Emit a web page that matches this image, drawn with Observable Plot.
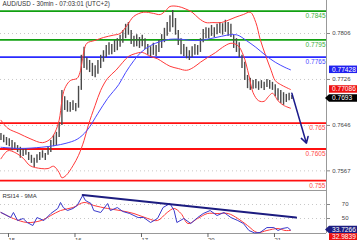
<!DOCTYPE html>
<html><head><meta charset="utf-8">
<script src="https://cdn.jsdelivr.net/npm/d3@7"></script>
<script src="https://cdn.jsdelivr.net/npm/@observablehq/plot@0.6"></script>
<style>
body{margin:0;background:#fff;}
#chart{position:relative;width:357px;height:240px;overflow:hidden;background:#fff;}
#chart svg{display:block;}
</style></head><body><div id="chart"></div>
<script>
// ---- data (x = 30-min candle index, 0 = 15th 00:00; weekend removed) ----
const title = "AUD/USD - 30min - 07:03:01 (UTC+2)";
const firstBar = -4, barStep = 2;   // hourly sampled bars
const high = [
.7632,.7629,.7625,.7623,.7620,.7616,.7611,.7608,.7604,.7606,
.7599,.7594,.7589,.7595,.7599,.7602,.7597,.7609,.7620,.7629,
.7634,.7651,.7707,.7696,.7689,.7686,.7689,.7684,.7714,.7768,
.7782,.7764,.7759,.7754,.7750,.7759,.7768,.7776,.7785,.7790,
.7787,.7794,.7797,.7803,.7811,.7822,.7825,.7811,.7801,.7804,
.7799,.7803,.7797,.7787,.7783,.7789,.7785,.7794,.7804,.7815,
.7825,.7837,.7846,.7832,.7811,.7797,.7787,.7782,.7776,.7783,
.7787,.7785,.7797,.7813,.7816,.7815,.7820,.7816,.7822,.7825,
.7823,.7829,.7825,.7822,.7803,.7797,.7790,.7768,.7756,.7733,
.7728,.7724,.7726,.7722,.7724,.7721,.7726,.7724,.7721,.7717,
.7710,.7707,.7703,.7700,.7702,.7698];
const low = [
.7620,.7616,.7611,.7609,.7602,.7604,.7599,.7589,.7592,.7594,
.7585,.7580,.7573,.7580,.7585,.7589,.7585,.7594,.7599,.7609,
.7611,.7625,.7646,.7672,.7669,.7669,.7672,.7670,.7676,.7707,
.7745,.7742,.7738,.7731,.7729,.7735,.7745,.7756,.7764,.7768,
.7769,.7773,.7776,.7782,.7789,.7797,.7803,.7787,.7782,.7783,
.7780,.7783,.7778,.7768,.7764,.7768,.7766,.7773,.7780,.7790,
.7801,.7808,.7816,.7803,.7785,.7769,.7766,.7762,.7759,.7764,
.7768,.7768,.7773,.7790,.7797,.7797,.7801,.7799,.7804,.7806,
.7803,.7808,.7801,.7799,.7780,.7773,.7764,.7745,.7724,.7710,
.7707,.7709,.7710,.7707,.7710,.7707,.7712,.7709,.7707,.7696,
.7689,.7684,.7681,.7686,.7689,.7691];

const bbUpperX = [-4,1,9,17,26,32,35,38,40,42,46,51,53,56,58,64,70,77,82,87,92,99,106,111,115,118,124,129,134,139,144,149,155,160,165,171,176,180,183,187,191,194,198,205];
const bbUpperY = [.7655,.7641,.7632,.7623,.7616,.7623,.7634,.7655,.7689,.7710,.7724,.7728,.7738,.7776,.7789,.7794,.7799,.7803,.7806,.7820,.7836,.7843,.7841,.7839,.7846,.7853,.7853,.7849,.7843,.7832,.7825,.7825,.7825,.7829,.7834,.7839,.7843,.7825,.7797,.7768,.7742,.7724,.7717,.77086];
const bbLowerX = [-4,1,6,12,17,25,30,34,38,40,43,48,52,56,59,64,68,73,79,84,88,93,98,104,109,113,118,124,130,135,140,145,151,156,162,167,171,175,178,182,186,189,192,196,200,205];
const bbLowerY = [.7588,.7602,.7599,.7589,.7576,.7571,.7571,.7575,.7564,.7555,.7559,.7576,.7594,.7620,.7646,.7681,.7707,.7728,.7742,.7756,.7766,.7771,.7773,.7766,.7762,.7756,.7749,.7745,.7742,.7747,.7756,.7764,.7773,.7782,.7789,.7785,.7768,.7733,.7703,.7689,.7688,.7696,.7702,.7689,.7681,.7676];
const maX = [-4,10,25,35,43,51,58,66,73,81,86,92,97,104,111,118,126,133,140,147,155,162,167,173,180,187,194,201,205];
const maY = [.7608,.7606,.7608,.7611,.7615,.7622,.7637,.7667,.7693,.7717,.7738,.7759,.7773,.7785,.7792,.7796,.7796,.7794,.7794,.7797,.7801,.7804,.7803,.7794,.7782,.7768,.7756,.7747,.77428];

const levelValues = [0.7845, 0.7795, 0.7765, 0.765, 0.7605, 0.755];
const levelLabels = ["0.7845", "0.7795", "0.7765", "0.765", "0.7605", "0.755"];
const levelKinds  = ["res", "res", "pivot", "sup", "sup", "sup"];
const arrowFrom = [206, 0.7702];
const arrowTo   = [216.5, 0.7615];
const priceTicks = [0.7806, 0.7726, 0.7646, 0.7567];
const lastPrice = 0.7693;
const tagLabels = {ma: "0.77428", upper: "0.77086", price: "0.7693", rsi: "33.7266", rsiMa: "32.9839"};

const rsiX = [-4,-1,3,5,8,12,15,19,22,27,32,37,39,41,44,48,51,55,57,61,63,68,73,75,80,84,89,95,99,104,109,113,118,121,123,128,133,138,142,147,152,157,162,167,171,175,179,183,188,193,196,199,203,205];
const rsiY = [58.6,55.7,51.4,58.6,47.1,50,44.3,40,51.4,47.1,57.1,64.3,72.9,65.7,61.4,64.3,68.6,82.9,75.7,71.4,61.4,58.6,71.4,61.4,65.7,60,57.1,51.4,51.4,44.3,50,65.7,71.4,61.4,44.3,50,42.9,51.4,57.1,61.4,54.3,58.6,51.4,47.1,42.9,32.9,29.5,30,37.1,37.1,32.9,35.7,37.1,33.73];
const rsiMaX = [-4,5,15,25,32,39,48,56,63,73,82,92,102,109,116,121,126,131,138,145,152,160,167,174,181,188,196,201,205];
const rsiMaY = [58.6,50,44.3,47.1,54.3,61.4,65.7,72.9,68.6,64.3,61.4,57.1,50,47.1,58.6,64.3,57.1,42.9,50,57.1,57.1,57.1,50,40,30,32.9,35.7,32.9,32.98];
const rsiTrendX = [55, 209];
const rsiTrendY = [83.5, 51.4];
const rsiTicks = [70, 50];
const dayTicks = [0, 48, 96, 144, 192];
const dayLabels = ["15", "16", "17", "20", "21"];

// ---- build tables ----
const bars = high.map((h, i) => ({i: firstBar + i * barStep, hi: h, lo: low[i]}));
const pts = (xs, ys) => xs.map((x, i) => ({x, y: ys[i]}));
const upper = pts(bbUpperX, bbUpperY), lower = pts(bbLowerX, bbLowerY), ma = pts(maX, maY);
const levels = levelValues.map((v, i) => ({v, label: levelLabels[i], kind: levelKinds[i]}));
const lineColor = {res: "#11a011", pivot: "#2a2aff", sup: "#ff1010"};
const textColor = {res: "#3cb03c", pivot: "#4a4aff", sup: "#ff4a4a"};
const rsi = pts(rsiX, rsiY), rsiMa = pts(rsiMaX, rsiMaY), trend = pts(rsiTrendX, rsiTrendY);

const font = "'Liberation Sans', Arial, sans-serif";
const xDomain = [-4.33, 231];
const W = 357, MR = 31;

const main = Plot.plot({
  width: W, height: 190, marginLeft: 0, marginRight: MR, marginTop: 0, marginBottom: 0,
  style: {fontFamily: font, background: "#fff", overflow: "visible"},
  x: {domain: xDomain, axis: null},
  y: {domain: [0.75328, 0.78634], axis: null},
  marks: [
    Plot.ruleY(priceTicks, {stroke: "#c8c8c8", strokeDasharray: "1,3"}),
    Plot.ruleY(levels, {y: "v", stroke: d => lineColor[d.kind], strokeWidth: 1.8}),
    Plot.ruleX(bars, {x: "i", y1: "lo", y2: "hi", stroke: "#4a4a4a", strokeWidth: 1.4}),
    Plot.line(upper, {x: "x", y: "y", stroke: "#ff3a3a", strokeWidth: 1, curve: "catmull-rom"}),
    Plot.line(lower, {x: "x", y: "y", stroke: "#ff3a3a", strokeWidth: 1, curve: "catmull-rom"}),
    Plot.line(ma, {x: "x", y: "y", stroke: "#4848ff", strokeWidth: 1, curve: "catmull-rom"}),
    Plot.arrow([{}], {x1: () => arrowFrom[0], y1: () => arrowFrom[1], x2: () => arrowTo[0], y2: () => arrowTo[1],
      stroke: "#1c1c8c", strokeWidth: 1.5, headLength: 7}),
    Plot.text(levels, {x: xDomain[1], y: "v", text: "label", textAnchor: "end", dx: -1, dy: 5,
      fill: d => textColor[d.kind], fontSize: 6.5}),
    Plot.text([title], {frameAnchor: "top-left", dx: 2, dy: 1, lineAnchor: "top", textAnchor: "start",
      fill: "#333", fontSize: 6.3}),
    Plot.ruleX([xDomain[1]], {stroke: "#999"}),
    Plot.axisY(priceTicks, {anchor: "right", label: null, tickSize: 3, tickPadding: 21, textAnchor: "end",
      tickFormat: d => d.toFixed(4), fontSize: 6, stroke: "#888", fill: "#444"})
  ]
});

const sub = Plot.plot({
  width: W, height: 50, marginLeft: 0, marginRight: MR, marginTop: 0, marginBottom: 7,
  style: {fontFamily: font, background: "#fff", overflow: "visible"},
  x: {domain: xDomain, axis: null},
  y: {domain: [28.6, 90], axis: null},
  marks: [
    Plot.ruleY(rsiTicks, {stroke: "#c8c8c8", strokeDasharray: "1,3"}),
    Plot.ruleY([90], {stroke: "#999"}),
    Plot.ruleY([28.6], {stroke: "#999"}),
    Plot.line(rsiMa, {x: "x", y: "y", stroke: "#ff3a3a", strokeWidth: 1, curve: "catmull-rom"}),
    Plot.line(rsi, {x: "x", y: "y", stroke: "#3a3acc", strokeWidth: 1}),
    Plot.line(trend, {x: "x", y: "y", stroke: "#1c1c80", strokeWidth: 2}),
    Plot.text(["RSI14 - 9MA"], {frameAnchor: "top-left", dx: 2, dy: 3, lineAnchor: "top", textAnchor: "start",
      fill: "#333", fontSize: 6}),
    Plot.ruleX([xDomain[1]], {stroke: "#999"}),
    Plot.axisY(rsiTicks, {anchor: "right", label: null, tickSize: 3, tickPadding: 19, textAnchor: "end",
      fontSize: 6, stroke: "#888", fill: "#444"}),
    Plot.axisX(dayTicks, {anchor: "bottom", label: null, tickSize: 4, tickPadding: 0, textAnchor: "start", dx: 2,
      tickFormat: d => dayLabels[dayTicks.indexOf(d)], fontSize: 6, stroke: "#666", fill: "#444"})
  ]
});

// value tags on the right edge, positioned with the plots' own y scales
function tag(svg, yPix, text, fill, pointed) {
  const y = yPix, h = 7.5, x0 = 329, x1 = 360;
  const g = d3.select(svg).append("g").attr("text-anchor", "start");
  const d = pointed
    ? `M${x0 - 4},${y} L${x0},${y - h / 2} L${x1},${y - h / 2} L${x1},${y + h / 2} L${x0},${y + h / 2} Z`
    : `M${x0},${y - h / 2} L${x1},${y - h / 2} L${x1},${y + h / 2} L${x0},${y + h / 2} Z`;
  g.append("path").attr("d", d).attr("fill", fill);
  g.append("text").attr("x", x0 + 3).attr("y", y).attr("dy", "0.36em").attr("text-anchor", "start")
    .attr("fill", "#fff").attr("font-size", 6.6).attr("font-family", font).text(text);
}
const ym = main.scale("y"), yr = sub.scale("y");
tag(main, ym.apply(maY[maY.length - 1]), tagLabels.ma, "#2020f0", false);
tag(main, ym.apply(bbUpperY[bbUpperY.length - 1]), tagLabels.upper, "#ee1010", false);
tag(main, ym.apply(lastPrice), tagLabels.price, "#000", true);
const rsiTagY = yr.apply(rsiY[rsiY.length - 1]);
tag(sub, rsiTagY, tagLabels.rsi, "#1c1c80", true);
tag(sub, rsiTagY + 7.5, tagLabels.rsiMa, "#ee1010", false);

document.getElementById("chart").append(main, sub);
</script></body></html>
